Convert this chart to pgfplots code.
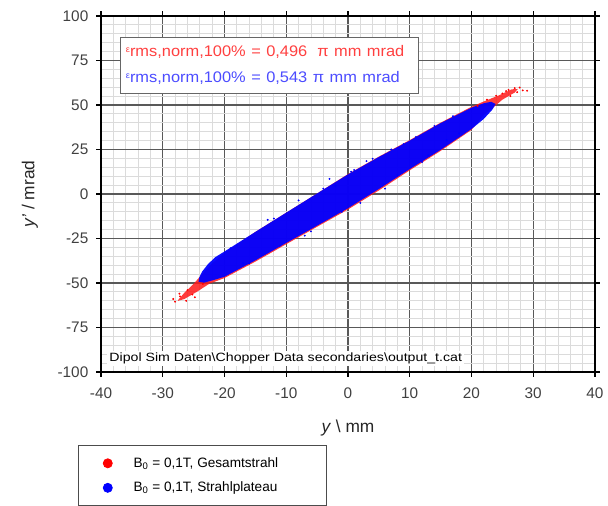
\documentclass[border=0pt]{standalone}
\usepackage{pgfplots}
\pgfplotsset{compat=1.18}
\usepackage{fontspec}
\setmainfont{Liberation Sans}
\begin{document}
\begin{tikzpicture}[x=1pt,y=1pt]
\path[use as bounding box] (-75.75pt,-100.5pt) rectangle (380.25pt,279pt);
\begin{axis}[
  at={(0pt,0pt)}, anchor=south west,
  scale only axis, width=370.5pt, height=267pt,
  xmin=-40, xmax=40, ymin=-100, ymax=100,
  xtick={-40,-30,...,40}, ytick={-100,-75,...,100},
  minor x tick num=4, minor y tick num=4,
  grid=both,
  major grid style={line width=0.8pt, gray!70!black},
  minor grid style={line width=0.6pt, gray!28},
  axis line style={line width=1.4pt, black},
  tick align=outside, major tick length=3.5pt, minor tick length=0pt,
  tick style={line width=0.8pt, black},
  /pgf/number format/assume math mode=true,
  tick label style={font=\fontsize{11.5}{13}\selectfont, text=black!75},
  xticklabel style={yshift=-5pt},
  yticklabel style={xshift=-2.5pt},
  xlabel={\textit{y} \textbackslash{} mm}, ylabel={\textit{y'} / mrad},
  label style={font=\fontsize{13}{15}\selectfont, text=black!85},
  xlabel style={at={(axis description cs:0.5,-0.157)}, anchor=center},
  ylabel style={at={(axis description cs:-0.1437,0.5)}, anchor=center, rotate=0},
  legend cell align=left,
  legend image code/.code={\path (0pt,-3pt) (34pt,3pt); \fill[#1] (17pt,0pt) circle (3.4pt);},
  legend style={at={(-0.0466,-0.205)}, anchor=north west, draw=black!70, line width=0.6pt,
    font=\fontsize{10.2}{12}\selectfont, row sep=5.5pt, inner xsep=4.75pt, inner ysep=7pt},
]
% red cloud (Gesamtstrahl)
\addplot[forget plot, draw=none, fill=red!90, fill opacity=0.85] coordinates {
(-27.5,-59.5) (-26.5,-55.5) (-25,-50.5) (-23.5,-44.5) (-22,-39) (-20,-33) (-15,-21.3) (-10,-10.5) (-5,0.3) (0,11.2) (5,21) (10,30.3) (15,40.1) (20,49) (22,52) (24.5,55.5) (26.5,58.8) (27.5,59)
(27,57) (25,53) (23.5,48.5) (22,44.5) (20,36) (15,24.2) (10,13.3) (5,2) (0,-8.7) (-5,-18.4) (-10,-28.2) (-15,-38) (-20,-47.2) (-22.5,-50.5) (-24.5,-55) (-26.5,-59) (-27.5,-60)
} -- cycle;
% blue cloud (Strahlplateau)
\addplot[forget plot, draw=none, fill=blue, fill opacity=0.95] coordinates {
(-24.2,-49.3) (-24.1,-47) (-23.6,-43.5) (-22.7,-39.5) (-21.5,-35.5) (-20,-32.3) (-15,-21.3) (-10,-10.5) (-5,0.3) (0,11) (5,20.8) (10,30) (15,39.8) (20,48.5) (22,51) (23.2,51.8) (23.9,50.6)
(23.4,47.5) (22,42.2) (20,36.5) (15,24.8) (10,14) (5,2.8) (0,-8) (-5,-17.8) (-10,-27.5) (-15,-37.3) (-20,-46.5) (-22,-48.6) (-23.3,-49.8)
} -- cycle;
% stray points
\addplot[forget plot, only marks, mark=*, mark size=0.5pt, red] coordinates {
(-28,-60.5) (-27.2,-57.5) (-26.2,-60) (-25.2,-56.5) (-24.8,-58) (-27.3,-56) (-28.3,-59) (-26,-54)
(27,59.5) (27.8,59.8) (26,58.5) (28.3,58.2) (25,56.5) (26.3,55) (22.5,53) (24,55.2) (29,58) (27.4,57.2) (25.6,57.8) (-23.5,-50.5) (21,49.5)
};
\addplot[forget plot, only marks, mark=*, mark size=0.5pt, blue] coordinates {
(-3,8.5) (1,13.5) (4,19.8) (-8,-3.6) (-12,-13.8) (-1,-10) (6,3) (12,18) (-17,-38.8) (8,10.7) (-6,-21) (2,-5) (7,25) (-2,4.5)
(-18,-29) (-13,-14.5) (3,18.5) (9,28) (14,38.2) (17,43.7) (18,34) (13,21.8) (-7,-23.4) (-16,-39) (-19,-30.5) (11,32) (0.5,12.5) (-4,3) (16,30.2) (-11,-29)
};
\addlegendimage{red}
\addlegendentry{\makebox[138pt][l]{B\textsubscript{0} = 0,1T, Gesamtstrahl}}
\addlegendimage{blue}
\addlegendentry{\makebox[138pt][l]{B\textsubscript{0} = 0,1T, Strahlplateau}}
% annotation boxes
\node[anchor=north west, fill=white, draw=black!60, line width=0.6pt, inner xsep=4pt, inner ysep=0pt,
  align=left, font=\fontsize{11.5}{19}\selectfont, minimum width=223.5pt, minimum height=42pt, text width=215.5pt]
  at (axis cs:-36.9,88.4) {%
  \scalebox{1.07}[1]{\textcolor{red!75}{\raisebox{0.5ex}{\fontsize{6.5}{6}\selectfont ε}rms,norm,100\% = 0,496 \;π mm mrad}}\\
  \scalebox{1.07}[1]{\textcolor{blue!70}{\raisebox{0.5ex}{\fontsize{6.5}{6}\selectfont ε}rms,norm,100\% = 0,543 π mm mrad}}};
\node[anchor=west, fill=white, inner sep=1.5pt, font=\fontsize{9}{10}\selectfont]
  at (axis cs:-39,-92.3) {\scalebox{1.18}[1]{Dipol Sim Daten\textbackslash Chopper Data secondaries\textbackslash output\_t.cat}};
\end{axis}
\end{tikzpicture}
\end{document}
